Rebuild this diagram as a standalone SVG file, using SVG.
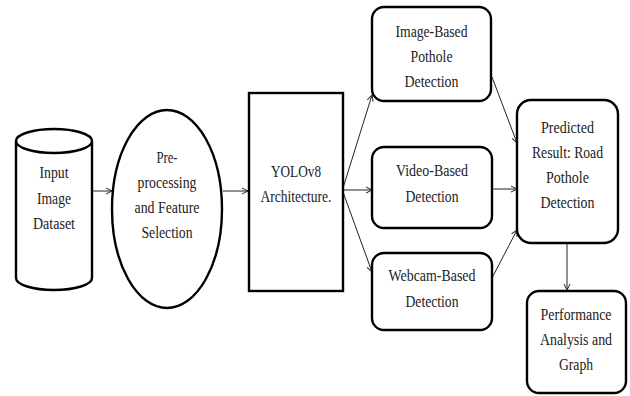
<svg xmlns="http://www.w3.org/2000/svg" width="630" height="396" viewBox="0 0 630 396" font-family="Liberation Serif, DejaVu Serif, serif">
<defs>
<marker id="ah" markerWidth="8" markerHeight="8" refX="7" refY="4" orient="auto" markerUnits="userSpaceOnUse">
<path d="M1,1 L7,4 L1,7" fill="none" stroke="#222" stroke-width="1"/>
</marker>
<style>
.sh{fill:#fff;stroke:#000;stroke-width:2.4}
.t{font-size:16px;fill:#222;text-anchor:middle}
.c{fill:none;stroke:#222;stroke-width:1;marker-end:url(#ah)}
</style>
</defs>
<rect width="630" height="396" fill="#fff"/>
<g id="connectors">
<line class="c" x1="92" y1="191" x2="112" y2="191"/>
<line class="c" x1="223" y1="191" x2="248" y2="191"/>
<line class="c" x1="343" y1="188" x2="372" y2="95"/>
<line class="c" x1="343" y1="190" x2="372" y2="190"/>
<line class="c" x1="343" y1="192" x2="372" y2="272"/>
<line class="c" x1="492" y1="77" x2="517" y2="143"/>
<line class="c" x1="492" y1="189" x2="517" y2="189"/>
<line class="c" x1="492" y1="278" x2="517" y2="230"/>
<line class="c" x1="567" y1="243" x2="567" y2="290"/>
</g>
<g id="input">
<path class="sh" d="M16,141 L16,278 A38,12 0 0 0 92,278 L92,141 A38,12 0 0 0 16,141 A38,12 0 0 0 92,141"/>
<text class="t" font-family="Liberation Serif" x="54" y="178" textLength="29" lengthAdjust="spacingAndGlyphs">Input</text>
<text class="t" font-family="Liberation Serif" x="54" y="204" textLength="34" lengthAdjust="spacingAndGlyphs">Image</text>
<text class="t" font-family="Liberation Serif" x="54" y="229" textLength="42" lengthAdjust="spacingAndGlyphs">Dataset</text>
</g>
<g id="preprocessing">
<ellipse class="sh" cx="167" cy="209" rx="55" ry="99"/>
<text class="t" font-family="Liberation Serif" x="167" y="163" textLength="21" lengthAdjust="spacingAndGlyphs">Pre-</text>
<text class="t" font-family="Liberation Serif" x="167" y="188" textLength="59" lengthAdjust="spacingAndGlyphs">processing</text>
<text class="t" font-family="Liberation Serif" x="167" y="213" textLength="65" lengthAdjust="spacingAndGlyphs">and Feature</text>
<text class="t" font-family="Liberation Serif" x="167" y="238" textLength="51" lengthAdjust="spacingAndGlyphs">Selection</text>
</g>
<g id="yolo">
<rect class="sh" x="249" y="93" width="94" height="198"/>
<text class="t" font-family="Liberation Serif" x="296" y="177" textLength="50" lengthAdjust="spacingAndGlyphs">YOLOv8</text>
<text class="t" font-family="Liberation Serif" x="296" y="202" textLength="71" lengthAdjust="spacingAndGlyphs">Architecture.</text>
</g>
<g id="image-based">
<rect class="sh" x="372" y="7" width="119" height="94" rx="12"/>
<text class="t" font-family="Liberation Serif" x="431.5" y="37" textLength="72" lengthAdjust="spacingAndGlyphs">Image-Based</text>
<text class="t" font-family="Liberation Serif" x="431.5" y="62" textLength="42" lengthAdjust="spacingAndGlyphs">Pothole</text>
<text class="t" font-family="Liberation Serif" x="431.5" y="87" textLength="54" lengthAdjust="spacingAndGlyphs">Detection</text>
</g>
<g id="video-based">
<rect class="sh" x="372" y="147" width="120" height="81" rx="12"/>
<text class="t" font-family="Liberation Serif" x="432" y="176" textLength="72" lengthAdjust="spacingAndGlyphs">Video-Based</text>
<text class="t" font-family="Liberation Serif" x="432" y="202" textLength="53" lengthAdjust="spacingAndGlyphs">Detection</text>
</g>
<g id="webcam-based">
<rect class="sh" x="372" y="253" width="120" height="77" rx="12"/>
<text class="t" font-family="Liberation Serif" x="432" y="281" textLength="87" lengthAdjust="spacingAndGlyphs">Webcam-Based</text>
<text class="t" font-family="Liberation Serif" x="432" y="307" textLength="53" lengthAdjust="spacingAndGlyphs">Detection</text>
</g>
<g id="predicted">
<rect class="sh" x="517" y="100" width="101" height="143" rx="14"/>
<text class="t" font-family="Liberation Serif" x="567.5" y="133" textLength="53" lengthAdjust="spacingAndGlyphs">Predicted</text>
<text class="t" font-family="Liberation Serif" x="567.5" y="158" textLength="71" lengthAdjust="spacingAndGlyphs">Result: Road</text>
<text class="t" font-family="Liberation Serif" x="567.5" y="183" textLength="43" lengthAdjust="spacingAndGlyphs">Pothole</text>
<text class="t" font-family="Liberation Serif" x="567.5" y="208" textLength="54" lengthAdjust="spacingAndGlyphs">Detection</text>
</g>
<g id="performance">
<rect class="sh" x="527" y="291" width="99" height="102" rx="12"/>
<text class="t" font-family="Liberation Serif" x="576" y="320" textLength="71" lengthAdjust="spacingAndGlyphs">Performance</text>
<text class="t" font-family="Liberation Serif" x="576" y="345" textLength="72" lengthAdjust="spacingAndGlyphs">Analysis and</text>
<text class="t" font-family="Liberation Serif" x="576" y="370" textLength="34" lengthAdjust="spacingAndGlyphs">Graph</text>
</g>
</svg>
